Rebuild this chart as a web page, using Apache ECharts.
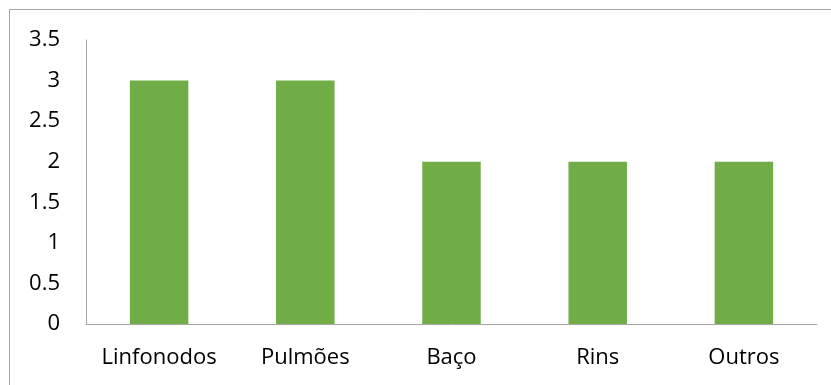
<!DOCTYPE html>
<html>
<head>
<meta charset="utf-8">
<script src="https://cdn.jsdelivr.net/npm/echarts@6/dist/echarts.min.js"></script>
<style>
  html, body { margin: 0; padding: 0; background: #fff; }
</style>
</head>
<body>
<div id="chart" style="width: 831px; height: 385px"></div>
<script>
const categories = ['Linfonodos', 'Pulmões', 'Baço', 'Rins', 'Outros']
const values = [3, 3, 2, 2, 2]

const chartInstance = echarts.init(document.getElementById('chart'))

const option = {
    animation: false,
    graphic: [
        {
            type: 'rect',
            shape: { x: 9.5, y: 9.5, width: 900, height: 500 },
            style: { fill: 'none', stroke: '#a6a6a6', lineWidth: 1 },
            silent: true
        }
    ],
    grid: { left: 86, right: 14, top: 40, bottom: 61 },
    xAxis: {
        type: 'category',
        data: categories,
        axisLine: { lineStyle: { color: '#a6a6a6', width: 1 } },
        axisTick: { show: false },
        axisLabel: { color: '#000', fontFamily: 'Open Sans', fontSize: 22, margin: 23, interval: 0 }
    },
    yAxis: {
        type: 'value',
        min: 0,
        max: 3.5,
        interval: 0.5,
        axisLine: { show: true, lineStyle: { color: '#a6a6a6', width: 1 } },
        axisTick: { show: false },
        splitLine: { show: false },
        axisLabel: { color: '#000', fontFamily: 'Open Sans', fontSize: 22, margin: 26 }
    },
    series: [
        {
            type: 'bar',
            data: values,
            barWidth: '40%',
            itemStyle: { color: '#70ad47' }
        }
    ]
}

chartInstance.setOption(option)
</script>
</body>
</html>
